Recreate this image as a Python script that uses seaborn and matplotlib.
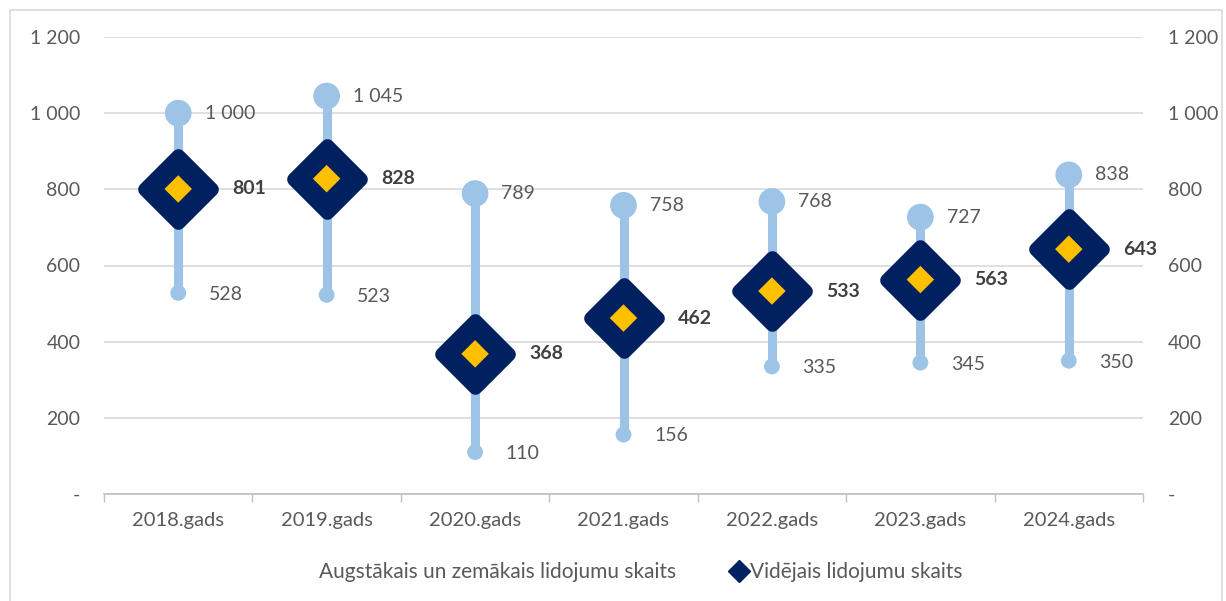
import numpy as np
import pandas as pd
import matplotlib
matplotlib.use("Agg")
import matplotlib.pyplot as plt
import seaborn as sns
from matplotlib.markers import MarkerStyle
from matplotlib.lines import Line2D
from matplotlib.patches import Rectangle
from matplotlib.ticker import FuncFormatter, FixedLocator

# data
years = ["2018.gads", "2019.gads", "2020.gads", "2021.gads", "2022.gads", "2023.gads", "2024.gads"]
max_flights = [1000, 1045, 789, 758, 768, 727, 838]
min_flights = [528, 523, 110, 156, 335, 345, 350]
avg_flights = [801, 828, 368, 462, 533, 563, 643]

df = pd.DataFrame({"year": years, "max": max_flights, "min": min_flights, "avg": avg_flights})

sns.set_theme(style="white")
plt.rcParams["font.family"] = ["Lato", "DejaVu Sans"]

LIGHT = "#9DC3E6"
NAVY = "#002060"
GOLD = "#FFC000"
GRID = "#D9D9D9"
TXT = "#595959"


def fmt(v, pos=None):
    if v == 0:
        return "-"
    return f"{int(v):,}".replace(",", " ")


fig = plt.figure(figsize=(12.26, 6.01), dpi=100)
ax = fig.add_axes([104 / 1226, 107 / 601, 1039 / 1226, 457 / 601])

x = np.arange(len(years))

# range lines
ax.vlines(x, df["min"], df["max"], color=LIGHT, linewidth=6.5, zorder=2)

# max / min circles
sns.scatterplot(x=x, y=df["max"], ax=ax, s=370, color=LIGHT, edgecolor="none", zorder=3, legend=False)
sns.scatterplot(x=x, y=df["min"], ax=ax, s=130, color=LIGHT, edgecolor="none", zorder=3, legend=False)

# average diamonds
dmark = MarkerStyle("D", joinstyle="round")
sns.scatterplot(x=x, y=df["avg"], ax=ax, marker=dmark, s=34 ** 2, color=NAVY,
                edgecolor=NAVY, linewidth=10, zorder=4, legend=False)
sns.scatterplot(x=x, y=df["avg"], ax=ax, marker="D", s=14 ** 2, color=GOLD,
                edgecolor="none", zorder=5, legend=False)

# labels
for i, row in df.iterrows():
    ax.annotate(fmt(row["max"]), (i, row["max"]), xytext=(19, 0), textcoords="offset points",
                ha="left", va="center", fontsize=14, color=TXT)
    ax.annotate(fmt(row["min"]), (i, row["min"]), xytext=(22, -1), textcoords="offset points",
                ha="left", va="center", fontsize=14, color=TXT)
    ax.annotate(fmt(row["avg"]), (i, row["avg"]), xytext=(39, 0), textcoords="offset points",
                ha="left", va="center", fontsize=14, color="#404040", fontweight="bold")

ax.set_xlim(-0.5, len(years) - 0.5)
ax.set_ylim(0, 1200)
ax.set_ylabel("")
ax.set_yticks(np.arange(0, 1201, 200))
ax.yaxis.set_major_formatter(FuncFormatter(fmt))
ax.grid(axis="y", color=GRID, linewidth=1.2)
ax.set_axisbelow(True)

ax.set_xticks(x)
ax.set_xticklabels(years)
ax.xaxis.set_minor_locator(FixedLocator(np.arange(-0.5, len(years), 1)))
ax.tick_params(axis="x", which="major", length=0, pad=13, labelsize=14.5, labelcolor=TXT)
ax.tick_params(axis="x", which="minor", length=6, width=1, color="#BFBFBF", direction="out", bottom=True)
ax.tick_params(axis="y", length=0, pad=17, labelsize=14, labelcolor=TXT)

for s in ["top", "left", "right"]:
    ax.spines[s].set_visible(False)
ax.spines["bottom"].set_color("#BFBFBF")
ax.spines["bottom"].set_linewidth(1.2)

# secondary axis
ax2 = ax.twinx()
ax2.set_ylim(ax.get_ylim())
ax2.set_yticks(np.arange(0, 1201, 200))
ax2.yaxis.set_major_formatter(FuncFormatter(fmt))
ax2.tick_params(axis="y", length=0, pad=18, labelsize=14, labelcolor=TXT)
for s in ax2.spines.values():
    s.set_visible(False)

# legend
handles = [
    Line2D([], [], linestyle="none"),
    Line2D([], [], linestyle="none", marker="D", markersize=11, color=NAVY),
]
labels = ["Augstākais un zemākais lidojumu skaits", "Vidējais lidojumu skaits"]
fig.legend(handles, labels, loc="center", bbox_to_anchor=(0.515, 0.048), ncol=2, frameon=False,
           fontsize=15, labelcolor=TXT, handlelength=0.8, handletextpad=0.1, columnspacing=2.6)

# chart border
fig.patches.append(Rectangle((10 / 1226, -0.1), 1212 / 1226, 1.1 - 10 / 601, transform=fig.transFigure,
                             fill=False, edgecolor=GRID, linewidth=1.2))

fig.savefig("out.png", dpi=100)
